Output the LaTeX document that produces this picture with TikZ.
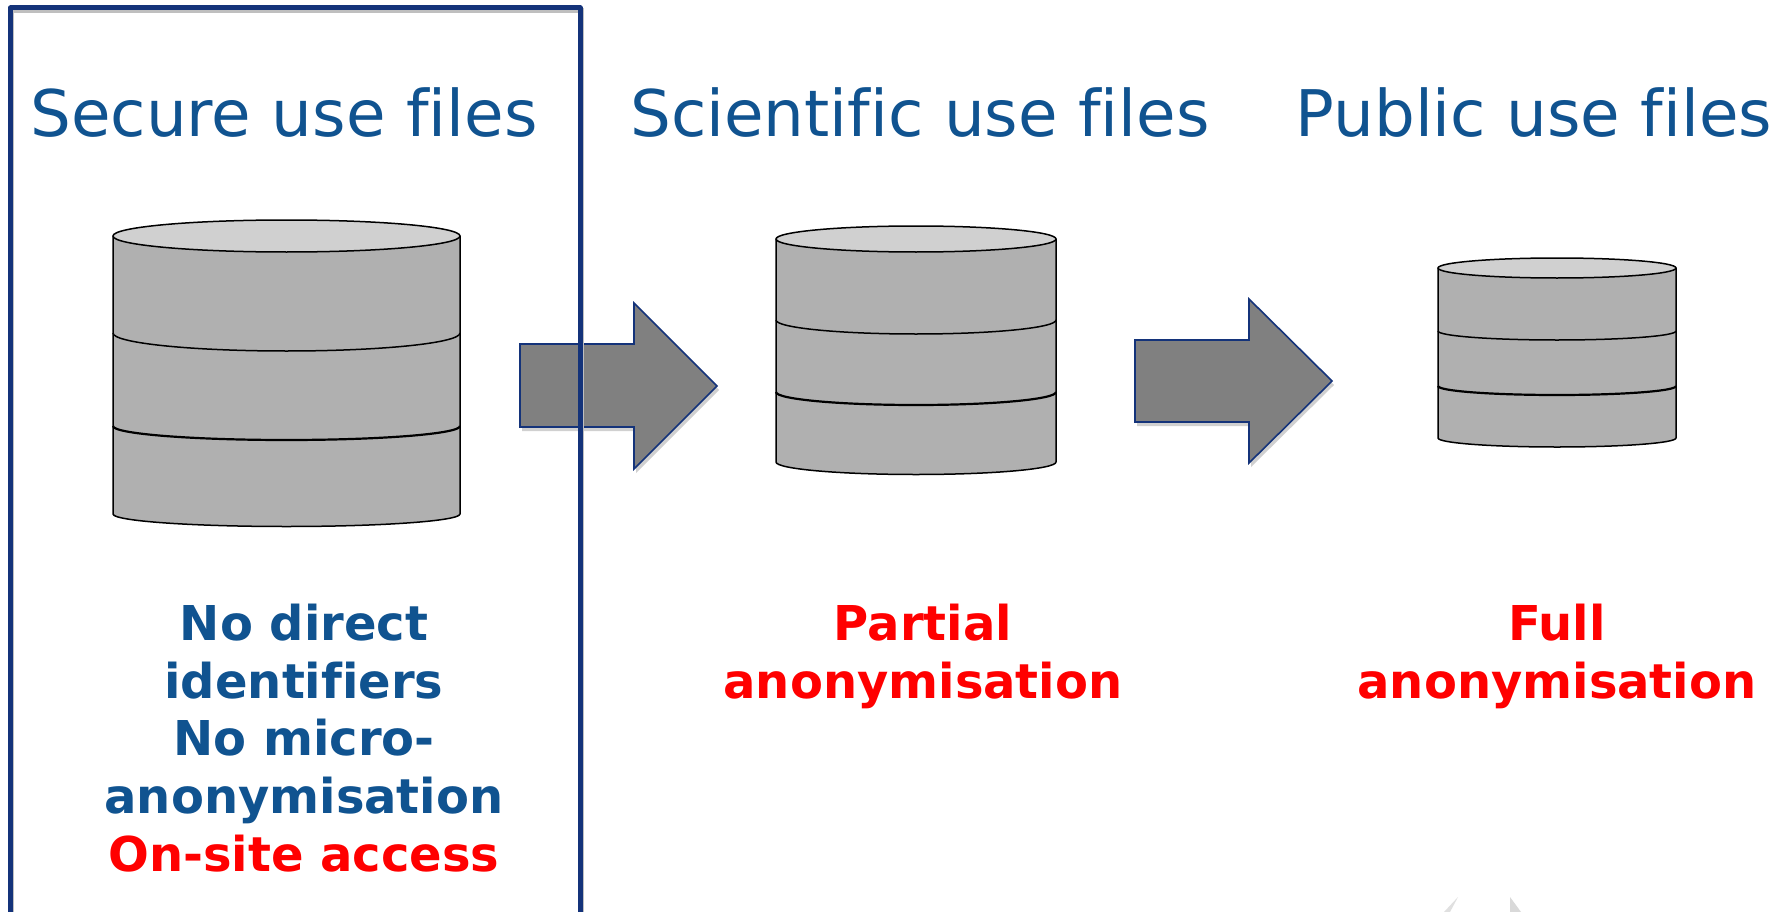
\documentclass[tikz,border=0pt]{standalone}
\usepackage{fontspec}
\setmainfont[RawFeature={-liga}]{DejaVu Sans}
\usetikzlibrary{shadows}
\definecolor{titleblue}{HTML}{105390}
\definecolor{framenavy}{HTML}{14337A}
\definecolor{cylbody}{HTML}{B0B0B0}
\definecolor{cyltop}{HTML}{D0D0D0}
\definecolor{arrowgrey}{HTML}{808080}
\definecolor{alertred}{HTML}{FF0000}
\tikzset{
  x=1pt,y=-1pt,
  softshadow/.style={drop shadow={shadow xshift=2pt,shadow yshift=-4pt,opacity=.3,fill=black!60}},
  titletext/.style={anchor=base,inner sep=0pt,text=titleblue,font=\fontsize{64.3}{70}\selectfont},
  bodytext/.style={anchor=base,inner sep=0pt,font=\fontsize{48}{57.7}\selectfont\bfseries},
  bluebody/.style={bodytext,text=titleblue},
  redbody/.style={bodytext,text=alertred},
  cylline/.style={draw=black,line width=1.5pt,line join=round},
  flowarrow/.style={draw=framenavy,line width=1.6pt,fill=arrowgrey,line join=miter,softshadow},
  framebox/.style={draw=framenavy,line width=5pt,line join=round},
}
% #1 left, #2 right, #3 top centre y, #4 top ry, #5 base side y, #6 base ry,
% #7 band 1 side y, #8 band 1 ry, #9 band 2 side y; band 2 ry is read from \bandtwory
\newcommand{\dbcyl}[9]{%
  \pgfmathsetmacro{\rx}{(#2-#1)/2}
  \pgfmathsetmacro{\mx}{(#2+#1)/2}
  \draw[cylline,fill=cylbody] (#1,#3) -- (#1,#5) arc[start angle=180,end angle=360,x radius=\rx pt,y radius=#6 pt] -- (#2,#3) -- cycle;
  \draw[cylline,fill=cyltop] (\mx,#3) ellipse[x radius=\rx pt,y radius=#4 pt];
  \draw[cylline] (#1,#7) arc[start angle=180,end angle=360,x radius=\rx pt,y radius=#8 pt];
  \draw[cylline,line width=2.2pt] (#1,#9) arc[start angle=180,end angle=360,x radius=\rx pt,y radius=\bandtwory pt];
}
\begin{document}
\begin{tikzpicture}
\useasboundingbox (0,0) rectangle (1790,912);
\fill[white] (0,0) rectangle (1790,912);

\def\bandtwory{14}
\dbcyl{113}{460}{236}{16}{514}{12.5}{333}{18}{426}
\def\bandtwory{13}
\dbcyl{776}{1056}{239}{13}{462}{12.5}{320}{14}{392}
\def\bandtwory{9}
\dbcyl{1438}{1676}{268}{10}{438}{9}{331}{9}{386}

\path[flowarrow] (520,344) -- (634,344) -- (634,303) -- (717,386) -- (634,469) -- (634,427) -- (520,427) -- cycle;
\path[flowarrow] (1135,340) -- (1249,340) -- (1249,299) -- (1332,381) -- (1249,463) -- (1249,422) -- (1135,422) -- cycle;

\draw[framebox,preaction={draw=black!25,line width=5pt,transform canvas={xshift=1pt,yshift=-3pt}}] (10.5,930) -- (10.5,8) -- (580,8) -- (580,930);

\node[titletext] (t1) at (284,137) {Secure use files};
\node[titletext] (t2) at (920,137) {Scientific use files};
\node[titletext] (t3) at (1534,137) {Public use files};

\node[bluebody] (l1) at (304,640) {No direct};
\node[bluebody] (l2) at (304,698) {identifiers};
\node[bluebody] (l3) at (304,755) {No micro-};
\node[bluebody] (l4) at (304,813) {anonymisation};
\node[redbody] (l5) at (304,871) {On-site access};

\node[redbody] (p1) at (923,640) {Partial};
\node[redbody] (p2) at (923,698) {anonymisation};
\node[redbody] (f1) at (1557,640) {Full};
\node[redbody] (f2) at (1557,698) {anonymisation};

\fill[black!12] (1458,897) -- (1444,912) -- (1450,912) -- cycle;
\fill[black!15] (1510,897) -- (1510,912) -- (1521,912) -- cycle;
\end{tikzpicture}
\end{document}
